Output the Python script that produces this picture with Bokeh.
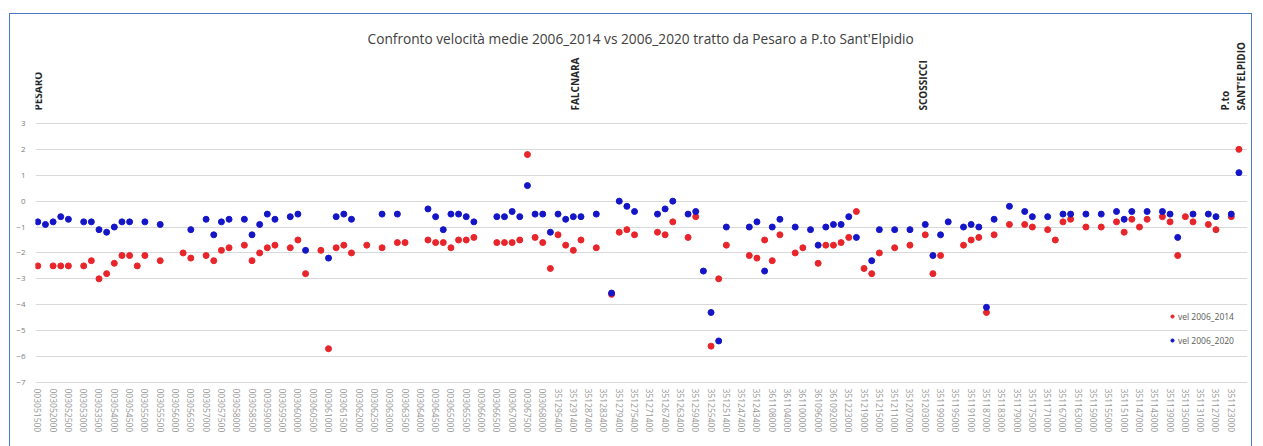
import numpy as np
from bokeh.plotting import figure
from bokeh.models import (Range1d, FixedTicker, Label, Legend, LegendItem,
                          ColumnDataSource)
from bokeh.embed import file_html
from bokeh.resources import INLINE

# ---------------- data ----------------
vel_2006_2014 = [
    -2.5, None, -2.5, -2.5, -2.5, None, -2.5, -2.3, -3.0, -2.8,
    -2.4, -2.1, -2.1, -2.5, -2.1, None, -2.3, None, None, -2.0,
    -2.2, None, -2.1, -2.3, -1.9, -1.8, None, -1.7, -2.3, -2.0,
    -1.8, -1.7, None, -1.8, -1.5, -2.8, None, -1.9, -5.7, -1.8,
    -1.7, -2.0, None, -1.7, None, -1.8, None, -1.6, -1.6, None,
    None, -1.5, -1.6, -1.6, -1.8, -1.5, -1.5, -1.4, None, None,
    -1.6, -1.6, -1.6, -1.5, 1.8, -1.4, -1.6, -2.6, -1.3, -1.7,
    -1.9, -1.5, None, -1.8, None, -3.6, -1.2, -1.1, -1.3, None,
    None, -1.2, -1.3, -0.8, None, -1.4, -0.6, None, -5.6, -3.0,
    -1.7, None, None, -2.1, -2.2, -1.5, -2.3, -1.3, None, -2.0,
    -1.8, None, -2.4, -1.7, -1.7, -1.6, -1.4, -0.4, -2.6, -2.8,
    -2.0, None, -1.8, None, -1.7, None, -1.3, -2.8, -2.1, None,
    None, -1.7, -1.5, -1.4, -4.3, -1.3, None, -0.9, None, -0.9,
    -1.0, None, -1.1, -1.5, -0.8, -0.7, None, -1.0, None, -1.0,
    None, -0.8, -1.2, -0.7, -1.0, -0.7, None, -0.6, -0.8, -2.1,
    -0.6, -0.8, None, -0.9, -1.1, None, -0.6, 2.0,
]
vel_2006_2020 = [
    -0.8, -0.9, -0.8, -0.6, -0.7, None, -0.8, -0.8, -1.1, -1.2,
    -1.0, -0.8, -0.8, None, -0.8, None, -0.9, None, None, None,
    -1.1, None, -0.7, -1.3, -0.8, -0.7, None, -0.7, -1.3, -0.9,
    -0.5, -0.7, None, -0.6, -0.5, -1.9, None, None, -2.2, -0.6,
    -0.5, -0.7, None, None, None, -0.5, None, -0.5, None, None,
    None, -0.3, -0.6, -1.1, -0.5, -0.5, -0.6, -0.8, None, None,
    -0.6, -0.6, -0.4, -0.6, 0.6, -0.5, -0.5, -1.2, -0.5, -0.7,
    -0.6, -0.6, None, -0.5, None, -3.55, 0.0, -0.2, -0.4, None,
    None, -0.5, -0.3, 0.0, None, -0.5, -0.4, -2.7, -4.3, -5.4,
    -1.0, None, None, -1.0, -0.8, -2.7, -1.0, -0.7, None, -1.0,
    None, -1.1, -1.7, -1.0, -0.9, -0.9, -0.6, -1.4, None, -2.3,
    -1.1, None, -1.1, None, -1.1, None, -0.9, -2.1, -1.3, -0.8,
    None, -1.0, -0.9, -1.0, -4.1, -0.7, None, -0.2, None, -0.4,
    -0.6, None, -0.6, None, -0.5, -0.5, None, -0.5, None, -0.5,
    None, -0.4, -0.7, -0.4, None, -0.4, None, -0.4, -0.5, -1.4,
    None, -0.5, None, -0.5, -0.6, None, -0.5, 1.1,
]
tick_labels = [
    "003051500", "003052000", "003052500", "003053000", "003053500",
    "003054000", "003054500", "003055000", "003055500", "003056000",
    "003056500", "003057000", "003057500", "003058000", "003058500",
    "003059000", "003059500", "003060000", "003060500", "003061000",
    "003061500", "003062000", "003062500", "003063000", "003063500",
    "003064000", "003064500", "003065000", "003065500", "003066000",
    "003066500", "003067000", "003067500", "003068000", "351295400",
    "351291400", "351287400", "351283400", "351279400", "351275400",
    "351271400", "351267400", "351263400", "351259400", "351255400",
    "351251400", "351247400", "351243400", "361108000", "361104000",
    "361100000", "361096000", "361092000", "351223000", "351219000",
    "351215000", "351211000", "351207000", "351203000", "351199000",
    "351195000", "351191000", "351187000", "351183000", "351179000",
    "351175000", "351171000", "351167000", "351163000", "351159000",
    "351155000", "351151000", "351147000", "351143000", "351139000",
    "351135000", "351131000", "351127000", "351123000",
]
title_text = ("Confronto velocità medie 2006_2014 vs 2006_2020 tratto da "
              "Pesaro a P.to Sant'Elpidio")
place_names = ["PESARO", "FALCNARA", "SCOSSICCI", "P.to\nSANT'ELPIDIO"]
place_index = [0, 70.2, 115.7, 156.2]
y_ticks = [-7, -6, -5, -4, -3, -2, -1, 0, 1, 2, 3]

# ---------------- figure ----------------
n = len(vel_2006_2014)
xs = np.arange(n)
red = np.array([np.nan if v is None else v for v in vel_2006_2014], dtype=float)
blue = np.array([np.nan if v is None else v for v in vel_2006_2020], dtype=float)
src = ColumnDataSource(dict(x=xs, red=red, blue=blue))

FONT = "Open Sans"

p = figure(width=1241, height=432, output_backend="svg", toolbar_location=None,
           x_range=Range1d(-0.3, 158.12), y_range=Range1d(-7.12, 6.9),
           min_border_left=25, min_border_right=4, min_border_top=8,
           min_border_bottom=61, margin=(14, 0, 0, 10),
           styles={"outline": "1.5px solid #4a7dc0"})
p.background_fill_color = "white"
p.border_fill_color = "white"
p.outline_line_color = None
p.title.text = ""
p.title.visible = False

# axes
p.yaxis.ticker = FixedTicker(ticks=y_ticks)
p.yaxis.axis_line_color = None
p.yaxis.major_tick_line_color = None
p.yaxis.minor_tick_line_color = None
p.yaxis.major_tick_out = 0
p.yaxis.major_label_text_font = FONT
p.yaxis.major_label_text_font_size = "8px"
p.yaxis.major_label_text_color = "#808080"
p.yaxis.major_label_standoff = 10

even = list(range(0, n, 2))
p.xaxis.ticker = FixedTicker(ticks=even)
p.xaxis.major_label_overrides = {i: tick_labels[k] for k, i in enumerate(even)}
p.xaxis.major_label_orientation = "vertical"
p.xaxis.axis_line_color = None
p.xaxis.major_tick_line_color = None
p.xaxis.minor_tick_line_color = None
p.xaxis.major_tick_out = 0
p.xaxis.major_label_text_font = FONT
p.xaxis.major_label_text_font_size = "8.5px"
p.xaxis.major_label_text_color = "#969696"
p.xaxis.major_label_standoff = 3

p.xgrid.grid_line_color = None
p.ygrid.grid_line_color = "#d9d9d9"
p.ygrid.grid_line_width = 1

r_red = p.scatter("x", "red", source=src, size=6, color="#e8252b")
r_blue = p.scatter("x", "blue", source=src, size=6, color="#1515c8")

legend = Legend(items=[LegendItem(label="vel 2006_2014", renderers=[r_red]),
                       LegendItem(label="vel 2006_2020", renderers=[r_blue])],
                location=(1133, 39), orientation="vertical")
legend.border_line_color = None
legend.background_fill_alpha = 0
legend.label_text_font = FONT
legend.label_text_font_size = "8.5px"
legend.label_text_color = "#595959"
legend.glyph_width = 8
legend.glyph_height = 12
legend.label_height = 12
legend.spacing = 12
legend.padding = 0
legend.margin = 0
legend.label_standoff = 2
p.add_layout(legend)

# chart title (inside the chart area, centred over the data)
p.add_layout(Label(x=(n - 1) / 2 + 0.3, y=6.28, text=title_text,
                   text_align="center", text_baseline="middle",
                   text_font=FONT, text_font_size="13.7px",
                   text_color="#404040"))

for name, xi in zip(place_names, place_index):
    p.add_layout(Label(x=xi, y=3.5, text=name, angle=np.pi / 2,
                       text_align="left", text_baseline="middle",
                       text_font=FONT, text_font_size="10px",
                       text_font_style="bold", text_color="#262626",
                       text_line_height=1.15))

open("out.html", "w").write(file_html(p, INLINE))
